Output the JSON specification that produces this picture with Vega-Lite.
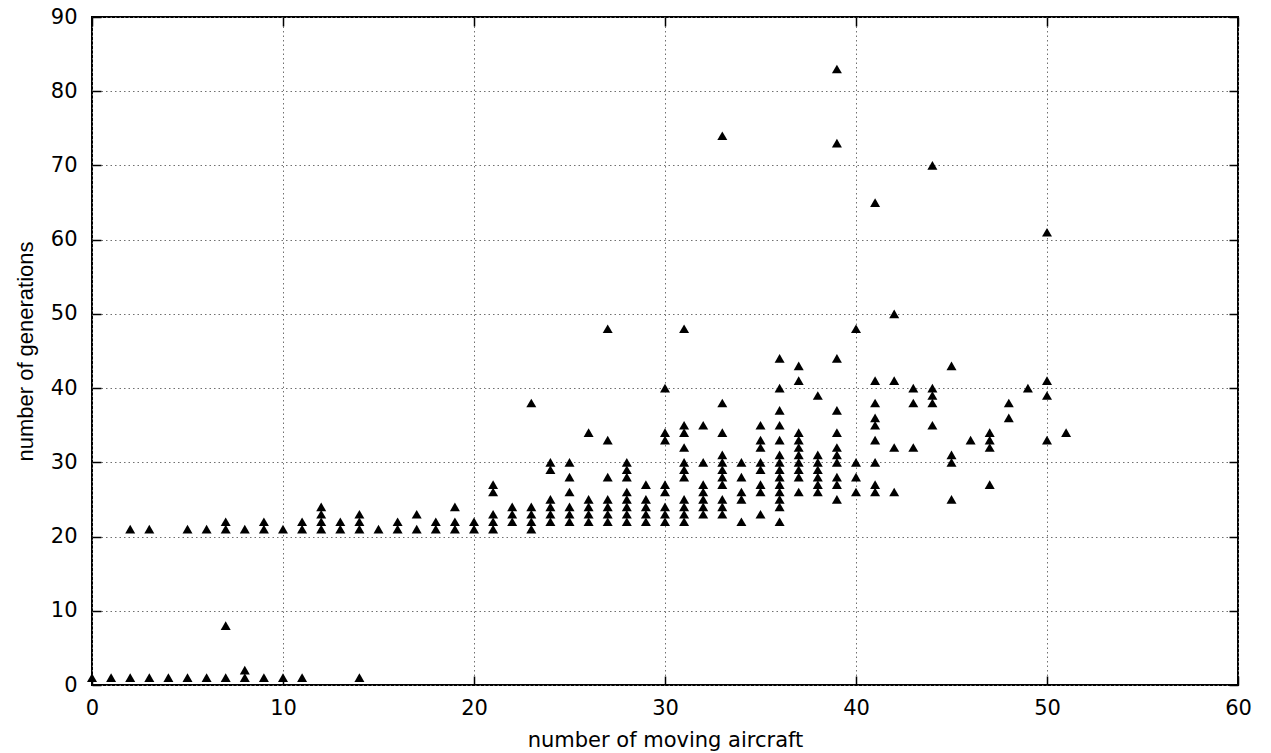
{
  "$schema": "https://vega.github.io/schema/vega-lite/v6.json",
  "width": 1146,
  "height": 668,
  "autosize": "none",
  "padding": {"left": 92, "top": 17, "right": 33, "bottom": 68},
  "background": "white",
  "config": {
    "view": {"stroke": "black", "strokeWidth": 2},
    "font": "DejaVu Sans",
    "axis": {
      "domain": false,
      "labelFont": "DejaVu Sans",
      "labelFontSize": 21,
      "labelColor": "black",
      "labelFlush": false,
      "labelOverlap": false,
      "titleFont": "DejaVu Sans",
      "titleFontSize": 21,
      "titleFontWeight": "normal",
      "titleColor": "black",
      "tickColor": "black",
      "tickWidth": 1.5,
      "tickSize": -9,
      "gridColor": "#707070",
      "gridDash": [1.5, 3],
      "gridWidth": 1,
      "gridOpacity": 1
    }
  },
  "data": {
    "values": [
      {"x":0,"y":1},{"x":1,"y":1},{"x":2,"y":1},{"x":2,"y":21},{"x":3,"y":1},{"x":3,"y":21},{"x":4,"y":1},
      {"x":5,"y":1},{"x":5,"y":21},{"x":6,"y":1},{"x":6,"y":21},
      {"x":7,"y":1},{"x":7,"y":8},{"x":7,"y":21},{"x":7,"y":22},
      {"x":8,"y":1},{"x":8,"y":2},{"x":8,"y":21},
      {"x":9,"y":1},{"x":9,"y":21},{"x":9,"y":22},
      {"x":10,"y":1},{"x":10,"y":21},
      {"x":11,"y":1},{"x":11,"y":21},{"x":11,"y":22},
      {"x":12,"y":21},{"x":12,"y":22},{"x":12,"y":23},{"x":12,"y":24},
      {"x":13,"y":21},{"x":13,"y":22},
      {"x":14,"y":1},{"x":14,"y":21},{"x":14,"y":22},{"x":14,"y":23},
      {"x":15,"y":21},
      {"x":16,"y":21},{"x":16,"y":22},
      {"x":17,"y":21},{"x":17,"y":23},
      {"x":18,"y":21},{"x":18,"y":22},
      {"x":19,"y":21},{"x":19,"y":22},{"x":19,"y":24},
      {"x":20,"y":21},{"x":20,"y":22},
      {"x":21,"y":21},{"x":21,"y":22},{"x":21,"y":23},{"x":21,"y":26},{"x":21,"y":27},
      {"x":22,"y":22},{"x":22,"y":23},{"x":22,"y":24},
      {"x":23,"y":21},{"x":23,"y":22},{"x":23,"y":23},{"x":23,"y":24},{"x":23,"y":38},
      {"x":24,"y":22},{"x":24,"y":23},{"x":24,"y":24},{"x":24,"y":25},{"x":24,"y":29},{"x":24,"y":30},
      {"x":25,"y":22},{"x":25,"y":23},{"x":25,"y":24},{"x":25,"y":26},{"x":25,"y":28},{"x":25,"y":30},
      {"x":26,"y":22},{"x":26,"y":23},{"x":26,"y":24},{"x":26,"y":25},{"x":26,"y":34},
      {"x":27,"y":22},{"x":27,"y":23},{"x":27,"y":24},{"x":27,"y":25},{"x":27,"y":28},{"x":27,"y":33},{"x":27,"y":48},
      {"x":28,"y":22},{"x":28,"y":23},{"x":28,"y":24},{"x":28,"y":25},{"x":28,"y":26},{"x":28,"y":28},{"x":28,"y":29},{"x":28,"y":30},
      {"x":29,"y":22},{"x":29,"y":23},{"x":29,"y":24},{"x":29,"y":25},{"x":29,"y":27},
      {"x":30,"y":22},{"x":30,"y":23},{"x":30,"y":24},{"x":30,"y":26},{"x":30,"y":27},{"x":30,"y":33},{"x":30,"y":34},{"x":30,"y":40},
      {"x":31,"y":22},{"x":31,"y":23},{"x":31,"y":24},{"x":31,"y":25},{"x":31,"y":28},{"x":31,"y":29},{"x":31,"y":30},{"x":31,"y":32},{"x":31,"y":34},{"x":31,"y":35},{"x":31,"y":48},
      {"x":32,"y":23},{"x":32,"y":24},{"x":32,"y":25},{"x":32,"y":26},{"x":32,"y":27},{"x":32,"y":30},{"x":32,"y":35},
      {"x":33,"y":23},{"x":33,"y":24},{"x":33,"y":25},{"x":33,"y":27},{"x":33,"y":28},{"x":33,"y":29},{"x":33,"y":30},{"x":33,"y":31},{"x":33,"y":34},{"x":33,"y":38},{"x":33,"y":74},
      {"x":34,"y":22},{"x":34,"y":25},{"x":34,"y":26},{"x":34,"y":28},{"x":34,"y":30},
      {"x":35,"y":23},{"x":35,"y":26},{"x":35,"y":27},{"x":35,"y":29},{"x":35,"y":30},{"x":35,"y":32},{"x":35,"y":33},{"x":35,"y":35},
      {"x":36,"y":22},{"x":36,"y":24},{"x":36,"y":25},{"x":36,"y":26},{"x":36,"y":27},{"x":36,"y":28},{"x":36,"y":29},{"x":36,"y":30},{"x":36,"y":31},{"x":36,"y":33},{"x":36,"y":35},{"x":36,"y":37},{"x":36,"y":40},{"x":36,"y":44},
      {"x":37,"y":26},{"x":37,"y":28},{"x":37,"y":29},{"x":37,"y":30},{"x":37,"y":31},{"x":37,"y":32},{"x":37,"y":33},{"x":37,"y":34},{"x":37,"y":41},{"x":37,"y":43},
      {"x":38,"y":26},{"x":38,"y":27},{"x":38,"y":28},{"x":38,"y":29},{"x":38,"y":30},{"x":38,"y":31},{"x":38,"y":39},
      {"x":39,"y":25},{"x":39,"y":27},{"x":39,"y":28},{"x":39,"y":30},{"x":39,"y":31},{"x":39,"y":32},{"x":39,"y":34},{"x":39,"y":37},{"x":39,"y":44},{"x":39,"y":73},{"x":39,"y":83},
      {"x":40,"y":26},{"x":40,"y":28},{"x":40,"y":30},{"x":40,"y":48},
      {"x":41,"y":26},{"x":41,"y":27},{"x":41,"y":30},{"x":41,"y":33},{"x":41,"y":35},{"x":41,"y":36},{"x":41,"y":38},{"x":41,"y":41},{"x":41,"y":65},
      {"x":42,"y":26},{"x":42,"y":32},{"x":42,"y":41},{"x":42,"y":50},
      {"x":43,"y":32},{"x":43,"y":38},{"x":43,"y":40},
      {"x":44,"y":35},{"x":44,"y":38},{"x":44,"y":39},{"x":44,"y":40},{"x":44,"y":70},
      {"x":45,"y":25},{"x":45,"y":30},{"x":45,"y":31},{"x":45,"y":43},
      {"x":46,"y":33},
      {"x":47,"y":27},{"x":47,"y":32},{"x":47,"y":33},{"x":47,"y":34},
      {"x":48,"y":36},{"x":48,"y":38},
      {"x":49,"y":40},
      {"x":50,"y":33},{"x":50,"y":39},{"x":50,"y":41},{"x":50,"y":61},
      {"x":51,"y":34}
    ]
  },
  "layer": [
    {
      "mark": {"type": "point", "shape": "triangle-up", "filled": true, "color": "black", "size": 100, "opacity": 1, "strokeWidth": 0},
      "encoding": {
        "x": {"field": "x", "type": "quantitative", "scale": {"domain": [0, 60], "nice": false, "zero": false},
              "axis": {"orient": "bottom", "title": "number of moving aircraft", "values": [0,10,20,30,40,50,60], "labelPadding": 21, "titlePadding": 11, "grid": true}},
        "y": {"field": "y", "type": "quantitative", "scale": {"domain": [0, 90], "nice": false, "zero": false},
              "axis": {"orient": "left", "title": "number of generations", "titleFont": "Liberation Sans", "titleFontSize": 22, "values": [0,10,20,30,40,50,60,70,80,90], "labelPadding": 24, "titlePadding": 13, "grid": true}}
      }
    },
    {
      "mark": {"type": "point", "opacity": 0},
      "encoding": {
        "x": {"field": "x", "type": "quantitative", "scale": {"domain": [0, 60], "nice": false, "zero": false},
              "axis": {"orient": "top", "title": null, "labels": false, "values": [0,10,20,30,40,50,60], "grid": false}},
        "y": {"field": "y", "type": "quantitative", "scale": {"domain": [0, 90], "nice": false, "zero": false},
              "axis": {"orient": "right", "title": null, "labels": false, "values": [0,10,20,30,40,50,60,70,80,90], "grid": false}}
      }
    }
  ],
  "resolve": {"axis": {"x": "independent", "y": "independent"}}
}
